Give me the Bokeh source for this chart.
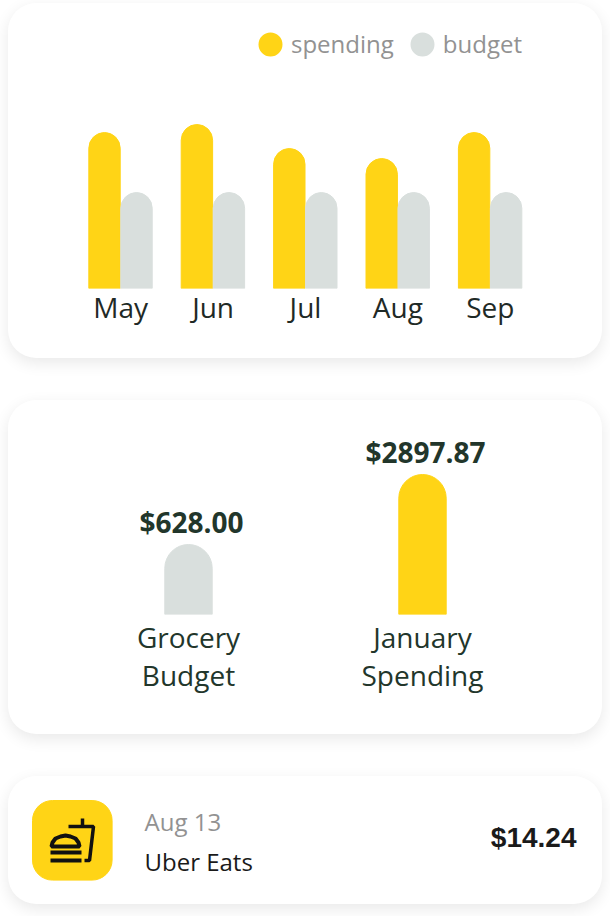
from bokeh.plotting import figure
from bokeh.embed import file_html
from bokeh.resources import INLINE
from bokeh.models import Legend, LegendItem, ColumnDataSource, LabelSet, Range1d, Label
from bokeh.transform import dodge
from bokeh.core.properties import value

months = ["May", "Jun", "Jul", "Aug", "Sep"]
spending = [156, 164, 140, 130, 156]
budget = [96, 96, 96, 96, 96]
cats = ["Grocery\nBudget", "January\nSpending"]
cat_heights = [70, 140]
cat_amounts = ["$628.00", "$2897.87"]
cat_colors = ["#D9DFDD", "#FFD416"]
YEL = "#FFD416"
GRY = "#D9DFDD"
DARK = "#22362B"
FONT = "Open Sans"

SHADOW = {"background": "white", "border-radius": "28px",
          "box-shadow": "0 5px 16px rgba(0,0,0,0.09)"}

def base(**kw):
    p = figure(output_backend="svg", toolbar_location=None, tools="",
               width=594, background_fill_color=None, border_fill_color=None,
               outline_line_color=None, **kw)
    p.grid.visible = False
    p.styles = SHADOW
    return p

# card 1
p1 = base(height=355, x_range=months, y_range=Range1d(0, 263), frame_width=462,
          min_border_left=66, min_border_right=66, min_border_top=22,
          min_border_bottom=70, margin=(3, 0, 0, 8))
src = ColumnDataSource(dict(m=months, s=spending, b=budget))
W = 32 / 92.4
BW = 31.4 / 92.4
OFF = -0.002
r1 = p1.vbar(x=dodge("m", OFF - W / 2, range=p1.x_range), top="s", width=BW, source=src,
             color=YEL, border_radius=(16, 16, 0, 0))
r2 = p1.vbar(x=dodge("m", OFF + W / 2, range=p1.x_range), top="b", width=BW, source=src,
             color=GRY, border_radius=(16, 16, 0, 0))
a = p1.xaxis[0]
a.axis_line_color = None
a.major_tick_line_color = None
a.minor_tick_line_color = None
a.major_tick_out = 0
a.major_tick_in = 0
a.major_label_text_font = FONT
a.major_label_text_font_size = "28px"
a.major_label_text_color = "#1f2a26"
a.major_label_standoff = -1
p1.yaxis.visible = False
d1 = p1.scatter(x=["May"], y=[-100], size=12, color=YEL, line_width=12)
d2 = p1.scatter(x=["May"], y=[-100], size=12, color=GRY, line_width=12)
leg = Legend(items=[LegendItem(label="spending", renderers=[d1]),
                    LegendItem(label="budget", renderers=[d2])],
             orientation="horizontal", location=(181, 228),
             background_fill_alpha=0, border_line_color=None, padding=0, margin=0,
             glyph_width=30, glyph_height=30, label_text_font=FONT,
             label_text_font_size="24px", label_text_color="#929292",
             spacing=13, label_standoff=6)
p1.add_layout(leg, "center")

# card 2
p2 = base(height=334, x_range=cats, y_range=Range1d(0, 176), frame_width=468,
          min_border_left=63, min_border_right=63, min_border_top=38,
          min_border_bottom=120, margin=(42, 0, 0, 8))
src2 = ColumnDataSource(dict(c=cats, h=cat_heights, a=cat_amounts, col=cat_colors))
p2.vbar(x="c", top="h", width=47.4 / 234, source=src2, color="col", border_radius=(24, 24, 0, 0))
p2.add_layout(LabelSet(x="c", y="h", text="a", source=src2, text_align="center",
                       text_font=value(FONT), text_font_style="bold", text_font_size="28px",
                       text_color=DARK, x_offset=3, y_offset=4))
a = p2.xaxis[0]
a.axis_line_color = None
a.major_tick_line_color = None
a.minor_tick_line_color = None
a.major_tick_out = 0
a.major_tick_in = 0
a.major_label_text_font = FONT
a.major_label_text_font_size = "28px"
a.major_label_text_color = DARK
a.major_label_text_line_height = 1.0
a.major_label_standoff = 3
p2.yaxis.visible = False

# card 3
p3 = base(height=128, x_range=Range1d(0, 594), y_range=Range1d(128, 0),
          min_border_left=0, min_border_right=0, min_border_top=0, min_border_bottom=0,
          margin=(42, 0, 0, 8))
p3.xaxis.visible = False
p3.yaxis.visible = False
p3.quad(left=[24], right=[103.6], top=[24], bottom=[103.6], color=YEL, border_radius=20)
INK = "#111111"
p3.multi_line(xs=[[60, 85, 81, 76], [74, 74]], ys=[[50, 50, 84, 84], [42, 50]],
              line_color=INK, line_width=3.5)
p3.patch(x=[43, 44, 47, 52, 57, 62, 67, 70, 71, 71, 43],
         y=[70, 66, 62, 60, 59, 60, 62, 66, 70, 70, 70],
         fill_color=None, line_color=INK, line_width=4)
p3.line([42, 73], [76, 76], line_color=INK, line_width=4)
p3.line([42, 73], [84, 84], line_color=INK, line_width=4)
for txt, x, y, size, col, fnt, st, al in [
    ("Aug 13", 136, 45, "24px", "#929292", FONT, "normal", "left"),
    ("Uber Eats", 136, 85, "24px", "#1a1a1a", FONT, "normal", "left"),
    ("$14.24", 568, 61, "28px", "#1a1a1a", "Liberation Sans", "bold", "right")]:
    p3.add_layout(Label(x=x, y=y, text=txt, text_font_size=size, text_color=col, text_font=fnt,
                        text_font_style=st, text_align=al, text_baseline="middle"))

open("out.html", "w").write(file_html([p1, p2, p3], INLINE))
